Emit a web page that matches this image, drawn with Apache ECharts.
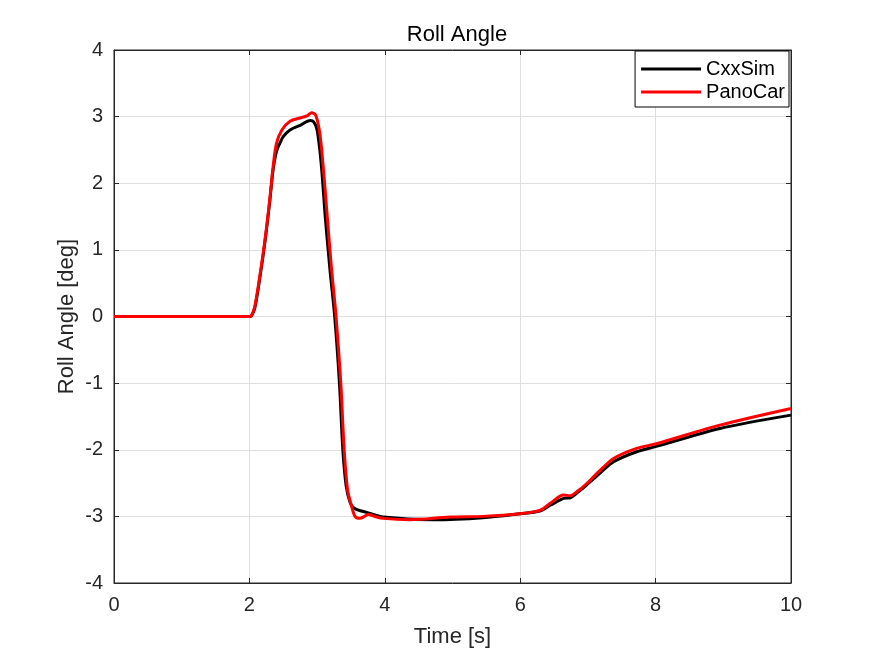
<!DOCTYPE html>
<html>
<head>
<meta charset="utf-8">
<title>Roll Angle</title>
<script src="https://cdn.jsdelivr.net/npm/echarts@6/dist/echarts.min.js"></script>
<style>
  html, body { margin: 0; padding: 0; background: #fff; }
  #chart { width: 875px; height: 656px; }
</style>
</head>
<body>
<div id="chart"></div>
<script>
// values
var seriesNames = ['CxxSim', 'PanoCar'];

var cxxTime = [0, 2.0, 2.03, 2.08, 2.16, 2.23, 2.30, 2.35, 2.40, 2.45, 2.50, 2.60, 2.75, 2.90, 2.95, 3.00,
  3.06, 3.12, 3.19, 3.26, 3.33, 3.38, 3.43, 3.49, 3.55, 3.73, 3.98, 4.72, 5.45, 6.0, 6.29, 6.45,
  6.64, 6.74, 6.85, 6.98, 7.18, 7.38, 7.72, 8.01, 8.95, 10];
var cxxRoll = [0, 0, 0.01, 0.13, 0.62, 1.12, 1.72, 2.2, 2.48, 2.6, 2.7, 2.8, 2.87, 2.94, 2.92, 2.8,
  2.3, 1.5, 0.7, 0, -1, -2, -2.55, -2.8, -2.88, -2.94, -3.01, -3.05, -3.02, -2.96, -2.92, -2.83,
  -2.73, -2.72, -2.64, -2.53, -2.35, -2.18, -2.03, -1.95, -1.68, -1.48];

var panoTime = [0, 2.0, 2.03, 2.08, 2.16, 2.23, 2.30, 2.35, 2.40, 2.48, 2.60, 2.75, 2.85, 2.92, 2.98,
  3.04, 3.09, 3.15, 3.21, 3.28, 3.35, 3.40, 3.45, 3.51, 3.56, 3.63, 3.70, 3.76, 3.85, 3.98, 4.37,
  4.96, 5.45, 6.0, 6.29, 6.45, 6.64, 6.74, 6.85, 6.98, 7.18, 7.38, 7.72, 8.01, 8.95, 10];
var panoRoll = [0, 0, 0.01, 0.15, 0.65, 1.15, 1.75, 2.25, 2.6, 2.8, 2.93, 2.98, 3.01, 3.06, 3.02,
  2.75, 2.25, 1.5, 0.75, 0, -1, -2, -2.6, -2.85, -3.0, -3.03, -3.0, -2.97, -3.0, -3.03, -3.05,
  -3.01, -3.0, -2.96, -2.91, -2.8, -2.68, -2.69, -2.62, -2.51, -2.31, -2.13, -1.98, -1.91, -1.63, -1.38];

function pairs(xs, ys) {
  return xs.map(function (x, i) { return [x, ys[i]]; });
}

var font = '"Liberation Sans", Arial, Helvetica, sans-serif';
var textColor = '#262626';
var axisColor = '#262626';
var gridColor = '#dfdfdf';

var tick = { show: true, inside: true, length: 5, lineStyle: { color: axisColor } };
var line = { show: true, onZero: false, lineStyle: { color: axisColor } };

var chart = echarts.init(document.getElementById('chart'));

var option = {
  animation: false,
  backgroundColor: '#fff',
  textStyle: { fontFamily: font },
  title: {
    text: 'Roll Angle',
    left: 452,
    textAlign: 'center',
    top: 19,
    textStyle: { fontFamily: font, fontSize: 22, fontWeight: 'normal', color: '#000' }
  },
  legend: {
    orient: 'vertical',
    right: 86,
    top: 51,
    padding: [8, 4, 5, 6],
    itemWidth: 60,
    itemHeight: 3,
    itemGap: 3,
    icon: 'rect',
    backgroundColor: '#fff',
    borderColor: '#000',
    borderWidth: 1,
    borderRadius: 0,
    textStyle: { fontFamily: font, fontSize: 20, color: '#000', lineHeight: 20 },
    data: seriesNames
  },
  grid: {
    left: 114, right: 84, top: 50, bottom: 73,
    show: true, borderColor: axisColor, borderWidth: 1, backgroundColor: 'transparent'
  },
  xAxis: [{
    type: 'value', min: 0, max: 10, interval: 2,
    name: 'Time [s]', nameLocation: 'middle', nameGap: 43, nameMoveOverlap: false,
    nameTextStyle: { fontFamily: font, fontSize: 22, color: textColor },
    axisLine: line,
    axisTick: tick,
    axisLabel: { fontFamily: font, fontSize: 20, color: textColor, margin: 12 },
    splitLine: { show: true, lineStyle: { color: gridColor } }
  }, {
    type: 'value', min: 0, max: 10, interval: 2, position: 'top',
    axisLine: line,
    axisTick: tick,
    axisLabel: { show: false },
    splitLine: { show: false }
  }],
  yAxis: [{
    type: 'value', min: -4, max: 4, interval: 1,
    name: 'Roll Angle [deg]', nameLocation: 'middle', nameGap: 36, nameMoveOverlap: false,
    nameTextStyle: { fontFamily: font, fontSize: 22, color: textColor },
    axisLine: line,
    axisTick: tick,
    axisLabel: { fontFamily: font, fontSize: 20, color: textColor, margin: 11 },
    splitLine: { show: true, lineStyle: { color: gridColor } }
  }, {
    type: 'value', min: -4, max: 4, interval: 1, position: 'right',
    axisLine: line,
    axisTick: tick,
    axisLabel: { show: false },
    splitLine: { show: false }
  }],
  series: [{
    name: seriesNames[0],
    type: 'line',
    data: pairs(cxxTime, cxxRoll),
    smooth: 0.3,
    symbol: 'none',
    color: '#000',
    lineStyle: { color: '#000', width: 3 }
  }, {
    name: seriesNames[1],
    type: 'line',
    data: pairs(panoTime, panoRoll),
    smooth: 0.3,
    symbol: 'none',
    color: '#ff0000',
    lineStyle: { color: '#ff0000', width: 3 }
  }]
};

chart.setOption(option);
</script>
</body>
</html>
